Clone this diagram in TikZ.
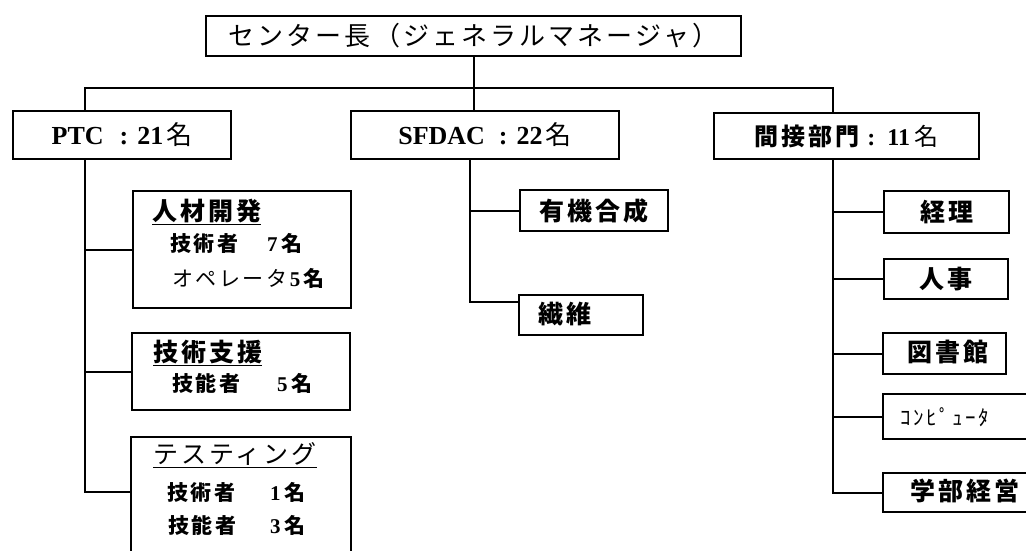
\documentclass[tikz,border=0pt]{standalone}
\usepackage{fontspec}
\setmainfont{Liberation Serif}
\newfontfamily\jp{Noto Sans CJK JP}[LetterSpace=12]
\usetikzlibrary{calc}
\tikzset{
  box/.style={draw, line width=2pt, inner sep=0pt, anchor=north west},
  conn/.style={line width=2pt},
  lbl/.style={inner sep=0pt, anchor=west},
}
\newcommand{\fs}[1]{\fontsize{#1}{#1}\selectfont}
\begin{document}
\begin{tikzpicture}[x=1pt,y=-1pt]
\useasboundingbox (0,0) rectangle (1026,550);
% top
\node[box, minimum width=535pt, minimum height=40pt] (top) at (205,15) {\fs{26}\jp センター長（ジェネラルマネージャ）};
% main boxes
\node[box, minimum width=218pt, minimum height=48pt] (ptc) at (12,110) {\fs{26}\bfseries PTC\hspace{16pt}:\hspace{9pt}21\hspace{3pt}{\mdseries\jp 名}};
\node[box, minimum width=268pt, minimum height=48pt] (sfdac) at (350,110) {\fs{26}\bfseries SFDAC\hspace{14pt}:\hspace{9pt}22\hspace{3pt}{\mdseries\jp 名}};
\node[box, minimum width=265pt, minimum height=46pt] (kan) at (713,112) {\fs{24}\bfseries{\jp 間接部門}\hspace{8pt}:\hspace{12pt}11\hspace{4pt}{\mdseries\jp 名}};
% PTC sub boxes
\node[box, minimum width=218pt, minimum height=117pt] (jinzai) at (132,190) {};
\node[box, minimum width=218pt, minimum height=77pt] (shien) at (131,332) {};
\node[box, minimum width=220pt, minimum height=130pt] (test) at (130,436) {};
\node[lbl] (jinzaiH) at (152,212) {\fs{25}\jp\bfseries\underline{人材開発}};
\node[lbl] (jinzai1) at (170,243) {\fs{21}\bfseries\makebox[97pt][l]{\jp 技術者}7\,{\jp 名}};
\node[lbl] (jinzai2) at (172,278) {\fs{21}{\jp オペレータ}\textbf{5}\,{\jp\bfseries 名}};
\node[lbl] (shienH) at (153,353) {\fs{25}\jp\bfseries\underline{技術支援}};
\node[lbl] (shien1) at (172,383) {\fs{21}\bfseries\makebox[105pt][l]{\jp 技能者}5\,{\jp 名}};
\node[lbl] (testH) at (153,455) {\fs{25}\jp\underline{テスティング}};
\node[lbl] (test1) at (167,492) {\fs{21}\bfseries\makebox[103pt][l]{\jp 技術者}1\,{\jp 名}};
\node[lbl] (test2) at (168,525) {\fs{21}\bfseries\makebox[102pt][l]{\jp 技能者}3\,{\jp 名}};
% SFDAC sub boxes
\node[box, minimum width=148pt, minimum height=41pt] (yuki) at (519,189) {\fs{25}\jp\bfseries 有機合成};
\node[box, minimum width=124pt, minimum height=40pt] (seni) at (518,294) {};
\node[lbl] (seniT) at (538,314) {\fs{25}\jp\bfseries 繊維};
% indirect sub boxes
\node[box, minimum width=125pt, minimum height=42pt] (keiri) at (883,190) {\fs{25}\jp\bfseries 経理};
\node[box, minimum width=124pt, minimum height=40pt] (jinji) at (883,258) {\fs{25}\jp\bfseries 人事};
\node[box, minimum width=123pt, minimum height=41pt] (tosho) at (882,332) {};
\node[lbl] (toshoT) at (907,352) {\fs{25}\jp\bfseries 図書館};
\node[box, minimum width=160pt, minimum height=45pt] (comp) at (882,393) {};
\node[lbl] (compT) at (900,417) {\fs{21}\jp ｺﾝﾋﾟｭｰﾀ};
\node[box, minimum width=160pt, minimum height=39pt] (gakubu) at (882,472) {};
\node[lbl] (gakubuT) at (910,491) {\fs{25}\jp\bfseries 学部経営};
% connectors
\coordinate (ptcin) at ($(ptc.north west)+(73,0)$);
\coordinate (kanin) at ($(kan.north west)+(120,0)$);
\coordinate (bar) at ($(top.south)+(0,31)$);
\draw[conn] (top.south) -- (top.south |- sfdac.north);
\draw[conn] (ptcin) |- (bar) -| (kanin);
\coordinate (ptcout) at ($(ptc.south west)+(73,0)$);
\draw[conn] (ptcout) |- (jinzai.west);
\draw[conn] (ptcout) |- (shien.west);
\draw[conn] (ptcout) |- ($(test.north west)+(0,56)$);
\coordinate (sfout) at ($(sfdac.south west)+(120,0)$);
\draw[conn] (sfout) |- (yuki.west);
\draw[conn] (sfout) |- ($(seni.north west)+(0,8)$);
\coordinate (kanout) at ($(kan.south west)+(120,0)$);
\draw[conn] (kanout) |- (keiri.west);
\draw[conn] (kanout) |- (jinji.west);
\draw[conn] (kanout) |- (tosho.west);
\draw[conn] (kanout) |- (comp.west);
\draw[conn] (kanout) |- (gakubu.west);
\end{tikzpicture}
\end{document}
